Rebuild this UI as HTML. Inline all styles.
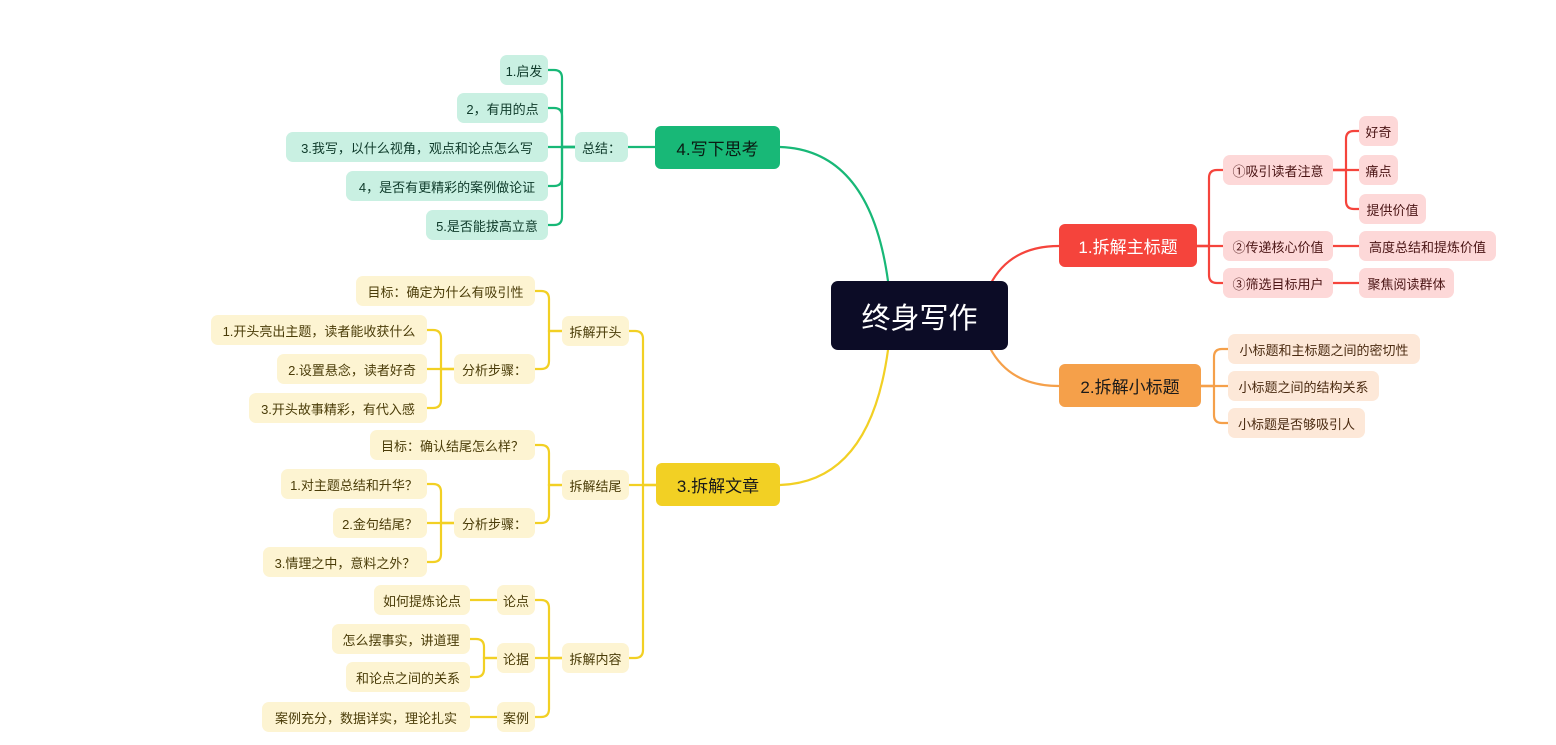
<!DOCTYPE html>
<html><head><meta charset="utf-8">
<style>
body{margin:0;width:1556px;height:745px;background:#fff;position:relative;overflow:hidden;font-family:"Liberation Sans","Noto Sans CJK SC",sans-serif;}
.n{position:absolute;display:flex;align-items:center;justify-content:center;border-radius:7px;font-size:13px;white-space:nowrap;box-sizing:border-box;}
.r{background:#fdd8d8;color:#4a1414}
.o{background:#fde8d8;color:#4a2a10}
.g{background:#c9f0e2;color:#0e3a2a}
.y{background:#fdf4d2;color:#4a3c08}
.m{font-size:17px;border-radius:6px}
svg{position:absolute;left:0;top:0}
</style></head><body>
<svg id="s" width="1556" height="745" fill="none" stroke-width="2.2" stroke-linecap="round">
<path d="M990 285 Q1010 246 1059 246" stroke="#f5443c"/>
<path d="M990 348 Q1010 386 1059 386" stroke="#f5a04a"/>
<path d="M888 281 Q870 150 780 147" stroke="#18b877"/>
<path d="M888 350 Q870 482 780 485" stroke="#f2d024"/>
</svg>
<div class="n" style="left:831px;top:281px;width:177px;height:69px;background:#0c0c26;color:#fff;font-size:29px;border-radius:7px">终身写作</div>
<div class="n m" style="left:1059px;top:224px;width:138px;height:43px;background:#f5443c;color:#fff">1.拆解主标题</div>
<div class="n m" style="left:1059px;top:364px;width:142px;height:43px;background:#f5a04a;color:#1a1a1a">2.拆解小标题</div>
<div class="n m" style="left:655px;top:126px;width:125px;height:43px;background:#18b877;color:#0a1a12">4.写下思考</div>
<div class="n m" style="left:656px;top:463px;width:124px;height:43px;background:#f2d024;color:#1a1a1a">3.拆解文章</div>

<div class="n r" style="left:1223px;top:155px;width:110px;height:30px">①吸引读者注意</div>
<div class="n r" style="left:1223px;top:231px;width:110px;height:30px">②传递核心价值</div>
<div class="n r" style="left:1223px;top:268px;width:110px;height:30px">③筛选目标用户</div>
<div class="n r" style="left:1359px;top:116px;width:39px;height:30px">好奇</div>
<div class="n r" style="left:1359px;top:155px;width:39px;height:30px">痛点</div>
<div class="n r" style="left:1359px;top:194px;width:67px;height:30px">提供价值</div>
<div class="n r" style="left:1359px;top:231px;width:137px;height:30px">高度总结和提炼价值</div>
<div class="n r" style="left:1359px;top:268px;width:95px;height:30px">聚焦阅读群体</div>

<div class="n o" style="left:1228px;top:334px;width:192px;height:30px">小标题和主标题之间的密切性</div>
<div class="n o" style="left:1228px;top:371px;width:151px;height:30px">小标题之间的结构关系</div>
<div class="n o" style="left:1228px;top:408px;width:137px;height:30px">小标题是否够吸引人</div>

<div class="n g" style="left:575px;top:132px;width:53px;height:30px">总结：</div>
<div class="n g" style="left:500px;top:55px;width:48px;height:30px">1.启发</div>
<div class="n g" style="left:457px;top:93px;width:91px;height:30px">2，有用的点</div>
<div class="n g" style="left:286px;top:132px;width:262px;height:30px">3.我写，以什么视角，观点和论点怎么写</div>
<div class="n g" style="left:346px;top:171px;width:202px;height:30px">4，是否有更精彩的案例做论证</div>
<div class="n g" style="left:426px;top:210px;width:122px;height:30px">5.是否能拔高立意</div>

<div class="n y" style="left:562px;top:316px;width:67px;height:30px">拆解开头</div>
<div class="n y" style="left:562px;top:470px;width:67px;height:30px">拆解结尾</div>
<div class="n y" style="left:562px;top:643px;width:67px;height:30px">拆解内容</div>
<div class="n y" style="left:356px;top:276px;width:179px;height:30px">目标：确定为什么有吸引性</div>
<div class="n y" style="left:454px;top:354px;width:81px;height:30px">分析步骤：</div>
<div class="n y" style="left:211px;top:315px;width:216px;height:30px">1.开头亮出主题，读者能收获什么</div>
<div class="n y" style="left:277px;top:354px;width:150px;height:30px">2.设置悬念，读者好奇</div>
<div class="n y" style="left:249px;top:393px;width:178px;height:30px">3.开头故事精彩，有代入感</div>
<div class="n y" style="left:370px;top:430px;width:165px;height:30px">目标：确认结尾怎么样？</div>
<div class="n y" style="left:454px;top:508px;width:81px;height:30px">分析步骤：</div>
<div class="n y" style="left:281px;top:469px;width:146px;height:30px">1.对主题总结和升华？</div>
<div class="n y" style="left:333px;top:508px;width:94px;height:30px">2.金句结尾？</div>
<div class="n y" style="left:263px;top:547px;width:164px;height:30px">3.情理之中，意料之外？</div>
<div class="n y" style="left:497px;top:585px;width:38px;height:30px">论点</div>
<div class="n y" style="left:497px;top:643px;width:38px;height:30px">论据</div>
<div class="n y" style="left:497px;top:702px;width:38px;height:30px">案例</div>
<div class="n y" style="left:374px;top:585px;width:96px;height:30px">如何提炼论点</div>
<div class="n y" style="left:332px;top:624px;width:138px;height:30px">怎么摆事实，讲道理</div>
<div class="n y" style="left:346px;top:662px;width:124px;height:30px">和论点之间的关系</div>
<div class="n y" style="left:262px;top:702px;width:208px;height:30px">案例充分，数据详实，理论扎实</div>
<script>
var s=document.getElementById('s');
function br(pe,py,x,ce,ys,col){
  ys.forEach(function(cy){
    var d,r=8,dir=ce>x?1:-1;
    if(Math.abs(cy-py)<r){d='M'+pe+' '+py+' L'+ce+' '+cy;}
    else{var sg=cy>py?1:-1;
      d='M'+pe+' '+py+' L'+x+' '+py+' L'+x+' '+(cy-sg*r)+' Q'+x+' '+cy+' '+(x+dir*r)+' '+cy+' L'+ce+' '+cy;}
    var p=document.createElementNS('http://www.w3.org/2000/svg','path');
    p.setAttribute('d',d);p.setAttribute('stroke',col);s.appendChild(p);
  });
}
br(1197,246,1209,1223,[170,246,283],'#f5443c');
br(1333,170,1346,1359,[131,170,209],'#f5443c');
br(1333,246,1346,1359,[246],'#f5443c');
br(1333,283,1346,1359,[283],'#f5443c');
br(1201,386,1214,1228,[349,386,423],'#f5a04a');
br(655,147,640,628,[147],'#18b877');
br(575,147,562,548,[70,108,147,186,225],'#18b877');
br(656,485,643,629,[331,485,658],'#f2d024');
br(562,331,549,535,[291,369],'#f2d024');
br(454,369,441,427,[330,369,408],'#f2d024');
br(562,485,549,535,[445,523],'#f2d024');
br(454,523,441,427,[484,523,562],'#f2d024');
br(562,658,549,535,[600,658,717],'#f2d024');
br(497,600,484,470,[600],'#f2d024');
br(497,658,484,470,[639,677],'#f2d024');
br(497,717,484,470,[717],'#f2d024');
</script>
</body></html>
